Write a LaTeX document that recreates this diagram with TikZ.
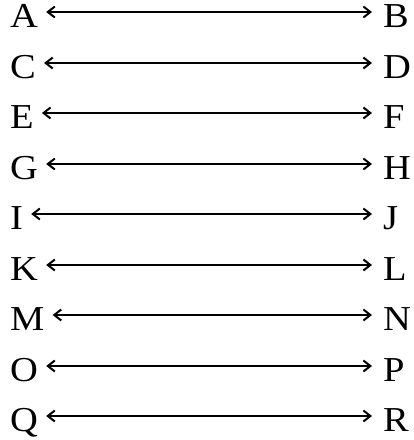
\documentclass[tikz,border=0pt]{standalone}
\usepackage{graphicx}
\usepackage{fontspec}
\setmainfont{Liberation Serif}
\usetikzlibrary{arrows.meta,calc}
\begin{document}
\begin{tikzpicture}[x=1pt,y=-1pt,
  lbl/.style={inner sep=0pt,font=\fontsize{35}{35}\selectfont},
  arr/.style={line width=2pt,{Straight Barb[length=7pt,width=11pt]}-{Straight Barb[length=7pt,width=11pt]}}]
\useasboundingbox[fill=white] (0,0) rectangle (414,440);
\foreach \l/\r [count=\i from 0] in {A/B,C/D,E/F,G/H,I/J,K/L,M/N,O/P,Q/R} {
  \pgfmathsetmacro\yy{round(12+50.5*\i)+15}
  \node[lbl,anchor=base west] (\l) at (10,\yy) {\scalebox{1.1}[1]{\l}};
  \node[lbl,anchor=base west] (\r) at (383,\yy) {\scalebox{1.1}[1]{\r}};
  \draw[arr] ($(\l.base east)+(8,-15)$) -- ($(\r.base west)+(-11,-15)$);
}
\end{tikzpicture}
\end{document}
